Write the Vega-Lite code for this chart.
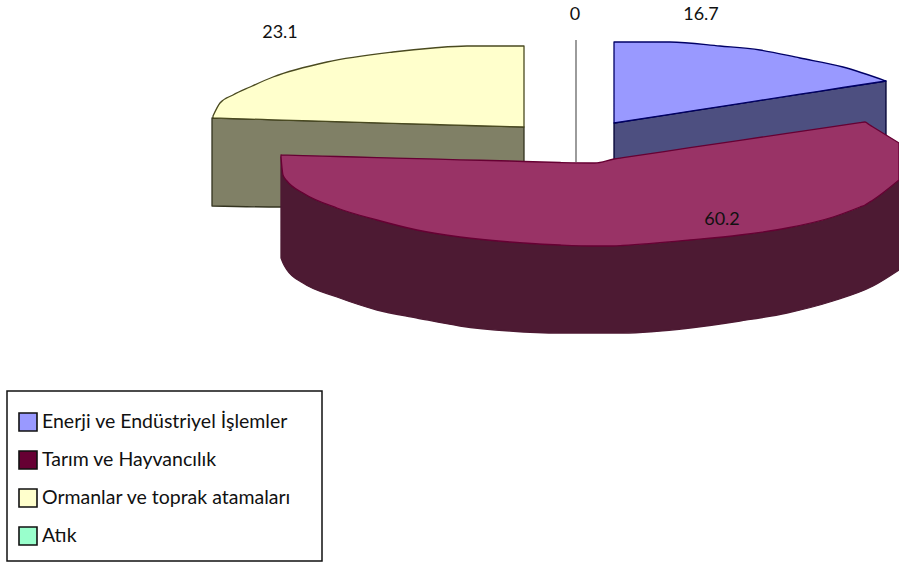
{
  "$schema": "https://vega.github.io/schema/vega-lite/v6.json",
  "width": 899,
  "height": 562,
  "padding": 0,
  "autosize": {"type": "none"},
  "background": "white",
  "view": {"stroke": null},
  "datasets": {
    "shares": [
      {"source": "Enerji ve Endüstriyel İşlemler", "value": "16.7", "x": 701, "y": 15},
      {"source": "Tarım ve Hayvancılık", "value": "60.2", "x": 722, "y": 220},
      {"source": "Ormanlar ve toprak atamaları", "value": "23.1", "x": 280, "y": 33},
      {"source": "Atık", "value": "0", "x": 575, "y": 15}
    ],
    "frame": [{"x": 7, "x2": 322, "y": 391, "y2": 561}],
    "zeroSlice": [{"x": 576, "y": 40, "y2": 162}],
    "pieces": [
      {"piece": "ormanSide", "x": 212, "y": 118, "y2": 206},
      {"piece": "ormanSide", "x": 281, "y": 120, "y2": 207},
      {"piece": "ormanSide", "x": 524, "y": 127, "y2": 162},

      {"piece": "ormanTop", "x": 213, "y": 116, "y2": 118},
      {"piece": "ormanTop", "x": 220, "y": 103, "y2": 118.2},
      {"piece": "ormanTop", "x": 233, "y": 95, "y2": 118.6},
      {"piece": "ormanTop", "x": 250, "y": 87, "y2": 119.1},
      {"piece": "ormanTop", "x": 273, "y": 77, "y2": 119.8},
      {"piece": "ormanTop", "x": 327, "y": 62, "y2": 121.3},
      {"piece": "ormanTop", "x": 393, "y": 52, "y2": 123.3},
      {"piece": "ormanTop", "x": 433, "y": 48, "y2": 124.5},
      {"piece": "ormanTop", "x": 467, "y": 46, "y2": 125.5},
      {"piece": "ormanTop", "x": 524, "y": 46, "y2": 127},

      {"piece": "enerjiSide", "x": 614, "y": 123, "y2": 160},
      {"piece": "enerjiSide", "x": 886, "y": 81, "y2": 136},

      {"piece": "enerjiTop", "x": 614, "y": 42, "y2": 123},
      {"piece": "enerjiTop", "x": 670, "y": 42, "y2": 114.3},
      {"piece": "enerjiTop", "x": 720, "y": 46, "y2": 106.6},
      {"piece": "enerjiTop", "x": 760, "y": 50, "y2": 100.4},
      {"piece": "enerjiTop", "x": 800, "y": 58, "y2": 94.2},
      {"piece": "enerjiTop", "x": 843, "y": 67, "y2": 87.5},
      {"piece": "enerjiTop", "x": 886, "y": 81, "y2": 81},

      {"piece": "tarimSide", "x": 281, "y": 157, "y2": 258},
      {"piece": "tarimSide", "x": 283, "y": 175, "y2": 263},
      {"piece": "tarimSide", "x": 287, "y": 181, "y2": 270},
      {"piece": "tarimSide", "x": 303, "y": 193, "y2": 283},
      {"piece": "tarimSide", "x": 337, "y": 208, "y2": 297},
      {"piece": "tarimSide", "x": 377, "y": 220, "y2": 310},
      {"piece": "tarimSide", "x": 417, "y": 230, "y2": 318},
      {"piece": "tarimSide", "x": 460, "y": 237, "y2": 326},
      {"piece": "tarimSide", "x": 510, "y": 242, "y2": 331},
      {"piece": "tarimSide", "x": 560, "y": 245, "y2": 333},
      {"piece": "tarimSide", "x": 623, "y": 245.5, "y2": 333},
      {"piece": "tarimSide", "x": 690, "y": 240, "y2": 328},
      {"piece": "tarimSide", "x": 740, "y": 235, "y2": 321},
      {"piece": "tarimSide", "x": 787, "y": 228, "y2": 313},
      {"piece": "tarimSide", "x": 833, "y": 217, "y2": 301},
      {"piece": "tarimSide", "x": 873, "y": 200, "y2": 286},
      {"piece": "tarimSide", "x": 899, "y": 180, "y2": 270},

      {"piece": "tarimTop", "x": 281, "y": 155, "y2": 157},
      {"piece": "tarimTop", "x": 283, "y": 155.1, "y2": 175},
      {"piece": "tarimTop", "x": 287, "y": 155.2, "y2": 181},
      {"piece": "tarimTop", "x": 303, "y": 155.6, "y2": 193},
      {"piece": "tarimTop", "x": 337, "y": 156.5, "y2": 208},
      {"piece": "tarimTop", "x": 377, "y": 157.6, "y2": 220},
      {"piece": "tarimTop", "x": 417, "y": 158.6, "y2": 230},
      {"piece": "tarimTop", "x": 460, "y": 159.8, "y2": 237},
      {"piece": "tarimTop", "x": 510, "y": 161, "y2": 242},
      {"piece": "tarimTop", "x": 524, "y": 161.5, "y2": 243},
      {"piece": "tarimTop", "x": 560, "y": 162.5, "y2": 245},
      {"piece": "tarimTop", "x": 595, "y": 163, "y2": 246},
      {"piece": "tarimTop", "x": 614, "y": 159, "y2": 246},
      {"piece": "tarimTop", "x": 623, "y": 157.7, "y2": 245.5},
      {"piece": "tarimTop", "x": 690, "y": 147.7, "y2": 240},
      {"piece": "tarimTop", "x": 740, "y": 140.3, "y2": 235},
      {"piece": "tarimTop", "x": 787, "y": 133.4, "y2": 228},
      {"piece": "tarimTop", "x": 833, "y": 126.7, "y2": 217},
      {"piece": "tarimTop", "x": 860, "y": 122.7, "y2": 207},
      {"piece": "tarimTop", "x": 865, "y": 122, "y2": 205},
      {"piece": "tarimTop", "x": 869, "y": 124.5, "y2": 202.5},
      {"piece": "tarimTop", "x": 873, "y": 127, "y2": 200},
      {"piece": "tarimTop", "x": 899, "y": 143, "y2": 180}
    ]
  },
  "encoding": {
    "x": {"field": "x", "type": "quantitative", "axis": null, "scale": {"domain": [0, 899], "nice": false, "zero": false}},
    "y": {"field": "y", "type": "quantitative", "axis": null, "scale": {"domain": [562, 0], "nice": false, "zero": false}}
  },
  "layer": [
    {
      "data": {"name": "frame"},
      "mark": {"type": "rect", "fill": "white", "stroke": "#111111", "strokeWidth": 1.5},
      "encoding": {"x2": {"field": "x2"}, "y2": {"field": "y2"}}
    },
    {
      "data": {"name": "zeroSlice"},
      "mark": {"type": "rule", "stroke": "#666666", "strokeWidth": 1.3},
      "encoding": {"y2": {"field": "y2"}}
    },
    {
      "data": {"name": "pieces"},
      "mark": {"type": "area", "orient": "vertical", "interpolate": "monotone", "strokeWidth": 1.3, "strokeJoin": "round", "fillOpacity": 1},
      "encoding": {
        "y2": {"field": "y2"},
        "detail": {"field": "piece"},
        "fill": {
          "field": "piece",
          "legend": null,
          "scale": {
            "domain": ["ormanSide", "ormanTop", "enerjiSide", "enerjiTop", "tarimSide", "tarimTop"],
            "range": ["#808066", "#ffffcc", "#4d4f80", "#9999ff", "#4d1a33", "#993366"]
          }
        },
        "stroke": {
          "field": "piece",
          "legend": null,
          "scale": {
            "domain": ["ormanSide", "ormanTop", "enerjiSide", "enerjiTop", "tarimSide", "tarimTop"],
            "range": ["#33331f", "#4a4a20", "#000033", "#000066", "#4d1a33", "#660033"]
          }
        }
      }
    },
    {
      "data": {"name": "shares"},
      "mark": {"type": "point", "shape": "square", "filled": true, "opacity": 0, "size": 10},
      "encoding": {
        "color": {
          "field": "source",
          "type": "nominal",
          "scale": {
            "domain": ["Enerji ve Endüstriyel İşlemler", "Tarım ve Hayvancılık", "Ormanlar ve toprak atamaları", "Atık"],
            "range": ["#9999ff", "#660033", "#ffffcc", "#99ffcc"]
          },
          "legend": {
            "title": null,
            "orient": "none",
            "legendX": 18,
            "legendY": 412,
            "padding": 0,
            "symbolType": "square",
            "symbolSize": 324,
            "symbolOpacity": 1,
            "symbolStrokeColor": "#111111",
            "symbolStrokeWidth": 1.6,
            "labelFont": "Lato",
            "labelFontSize": 19.5,
            "labelColor": "#111111",
            "labelOffset": 4,
            "labelLimit": 300,
            "rowPadding": 12
          }
        }
      }
    },
    {
      "data": {"name": "shares"},
      "mark": {"type": "text", "font": "Lato", "fontSize": 18, "color": "#111111", "align": "center", "baseline": "middle"},
      "encoding": {"text": {"field": "value"}}
    }
  ]
}
